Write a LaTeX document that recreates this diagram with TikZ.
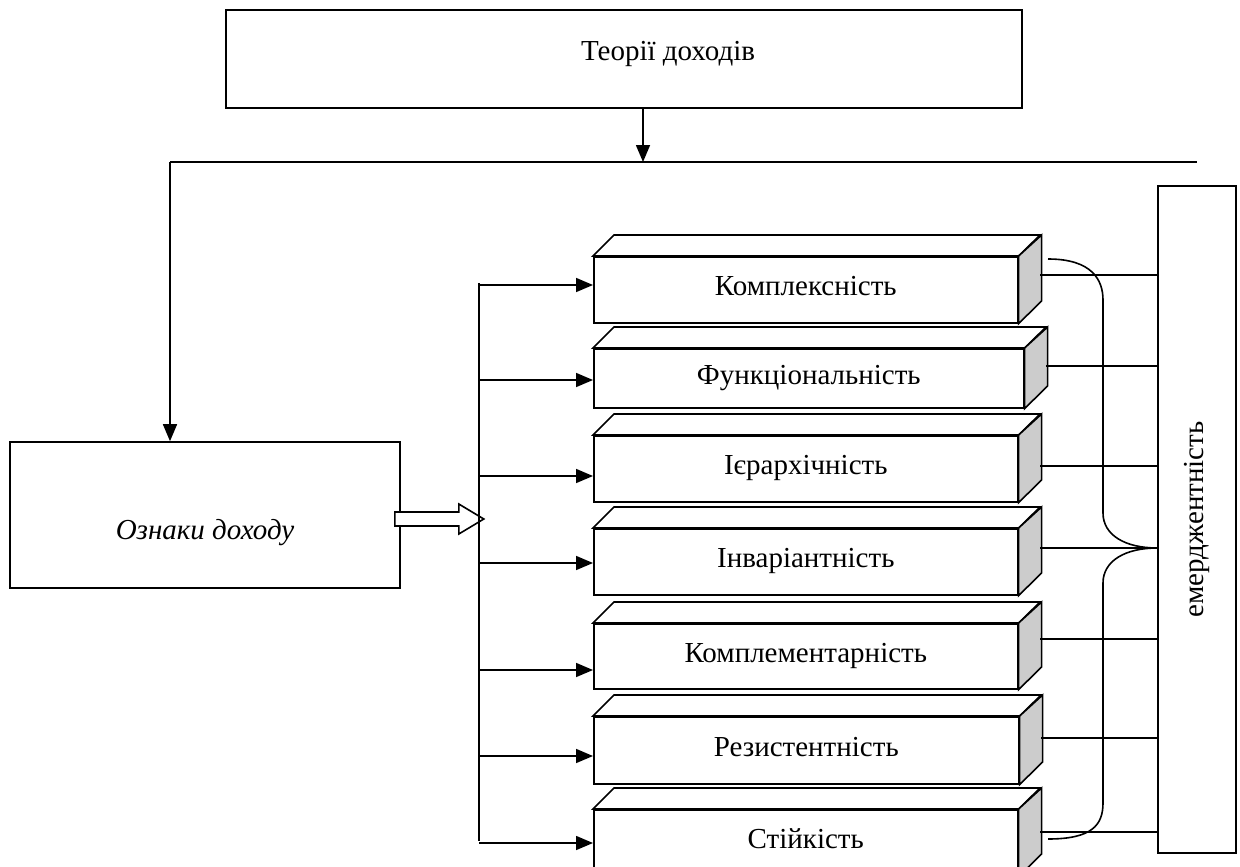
\documentclass[tikz,border=0pt]{standalone}
\usepackage{fontspec}
\setmainfont{Liberation Serif}
\usetikzlibrary{arrows.meta,calc}
\begin{document}
\begin{tikzpicture}[x=1pt,y=-1pt,
  every node/.style={font=\fontsize{29}{34}\selectfont},
  line/.style={line width=1.6pt},
  arr/.style={line, -{Triangle[length=17pt,width=14pt]}},
  frame/.style={draw, line width=1.6pt, fill=white, inner sep=0pt},
  front/.style={frame, anchor=north west, text height=22pt, text depth=10pt},
  topface/.style={draw, line width=1.6pt, fill=white},
  sideface/.style={draw, line width=1.6pt, fill=black!20},
]
\useasboundingbox (0,0) rectangle (1240,867);
\clip (0,0) rectangle (1240,867);

% heading box and the distribution bus under it
\node[frame, minimum width=796pt, minimum height=98pt] (theories) at (624,59) {};
\node[anchor=base] (theoriesT) at (668,61) {Теорії доходів};
\coordinate (busL) at (170,162);
\coordinate (busR) at (1197,162);
\coordinate (busT) at (643,162);
\draw[line] (busL) -- (busR);
\draw[arr] (theories.south -| busT) -- (busT);

% features box
\node[frame, minimum width=390pt, minimum height=146pt] (features) at (205,515) {};
\node[anchor=base, font=\fontsize{29}{34}\selectfont\itshape] (featuresT) at (205,539) {Ознаки доходу};
\draw[arr] (busL) -- (busL |- features.north);

% hollow block arrow towards the spine
\coordinate (hollowS) at ($(features.east)+(-6,4)$);
\draw[line, fill=white] (hollowS) ++(0,-7) -- ++(64,0) -- ++(0,-8)
  -- ($(hollowS)+(89,0)$) -- ++(-25,15) -- ++(0,-8) -- ++(-64,0) -- cycle;

% spine
\coordinate (spT) at (479,283);
\coordinate (spB) at (479,841);
\draw[line] (spT) -- (spB);

% emergence box
\node[frame, minimum width=78pt, minimum height=667pt] (em) at (1197,519.5) {};
\node[rotate=90] (emT) at (em.center) {емерджентність};

% property blocks
\foreach \i/\t/\w/\h/\ay/\ry/\txt in {
 1/256/424/66/285/275/Комплексність,
 2/348/430/59/380/366/Функціональність,
 3/435/424/66/476/466/Ієрархічність,
 4/528/424/66/563/548/Інваріантність,
 5/623/424/65/670/639/Комплементарність,
 6/716/425/67/756/738/Резистентність,
 7/809/424/66/843/832/Стійкість}
{
  \node[front, minimum width=\w pt, minimum height=\h pt] (b\i) at (593,\t) {\txt};
  \draw[topface] (b\i.north west) -- ++(21,-21) -- ++({\w+2},0) -- (b\i.north east) -- cycle;
  \draw[sideface] (b\i.north east) -- ++(23,-21) -- ++(0,\h) -- (b\i.south east) -- cycle;
  \path (479,\ay) coordinate (a\i);
  \path ({616+\w},\ry) coordinate (r\i);
  \draw[arr] (a\i) -- (a\i -| b\i.west);
  \draw[line] (r\i) -- (r\i -| em.west);
}

% brace joining the blocks to the emergence box
\coordinate (tip) at (em.west |- r4);
\draw[line] (1048,259) .. controls (1092,259) and (1103,280) .. (1103,300)
  -- (1103,513) .. controls (1103,535) and (1125,548) .. (tip);
\draw[line] (tip) .. controls (1125,548) and (1103,561) .. (1103,583)
  -- (1103,803) .. controls (1103,825) and (1092,839) .. (1048,839);
\end{tikzpicture}
\end{document}
